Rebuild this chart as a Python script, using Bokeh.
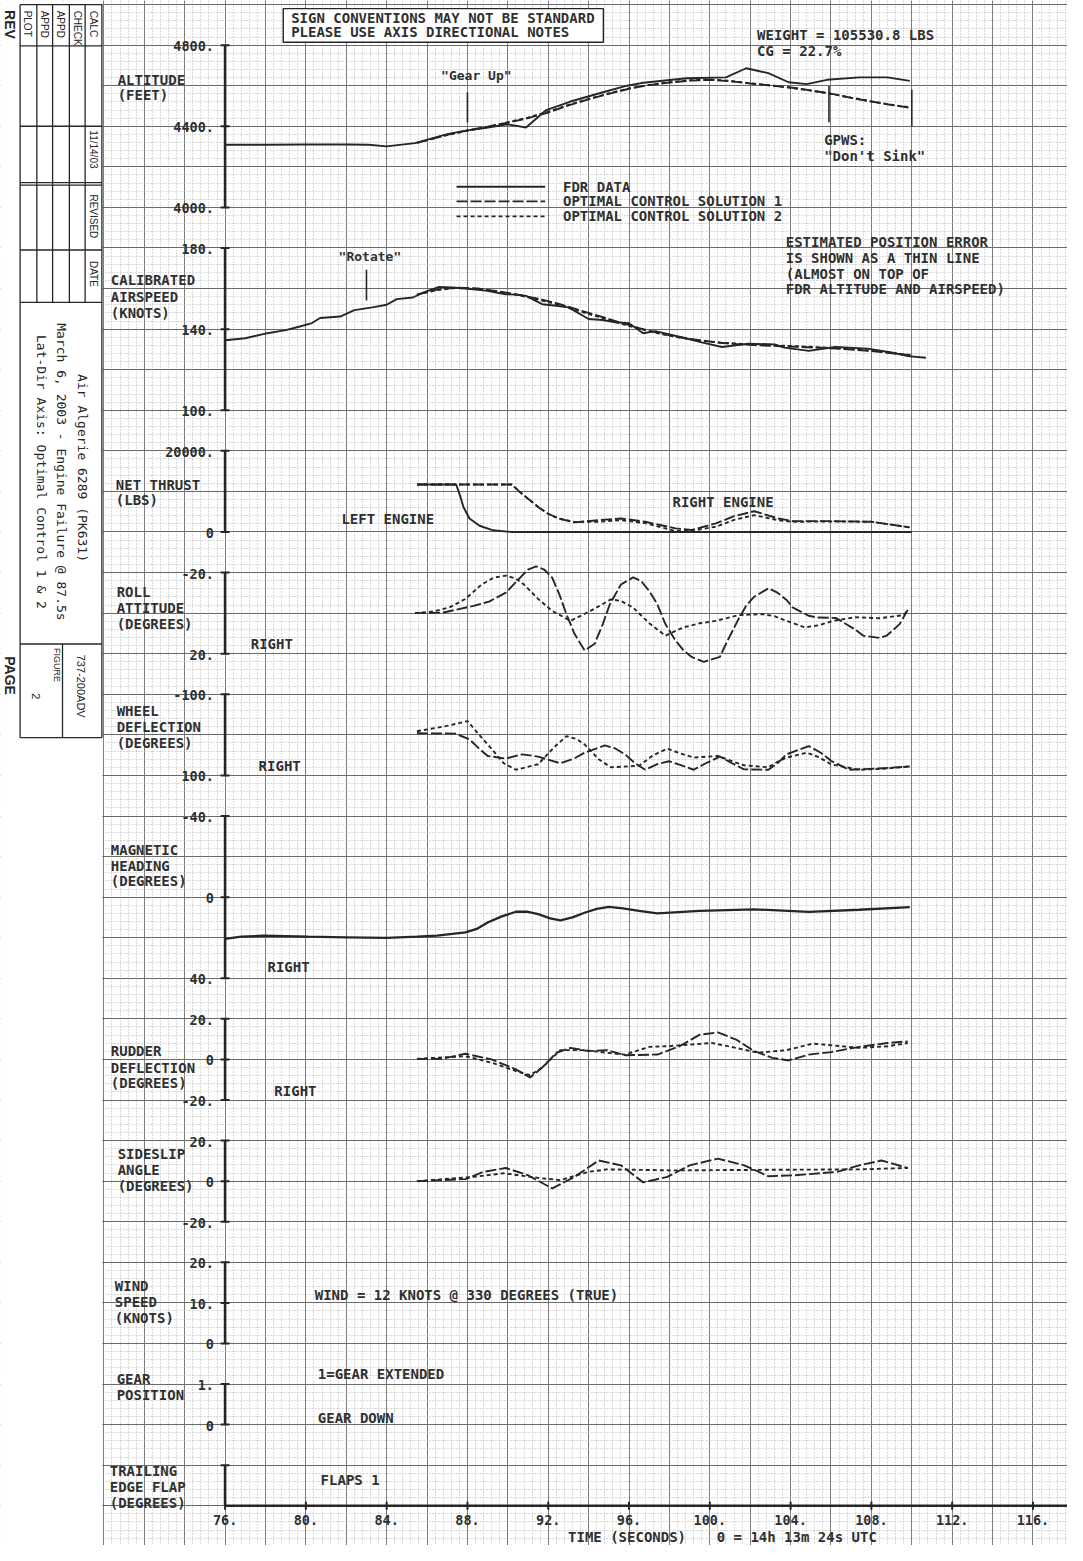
import numpy as np
from bokeh.plotting import figure
from bokeh.models import Range1d, Grid, SingleIntervalTicker
from bokeh.core.properties import value
from bokeh.embed import file_html
from bokeh.resources import INLINE

# ---------------- data (time in seconds) ----------------
# altitude (ft)
alt_fdr_t = [76, 78, 80, 82, 83.1, 84, 85.4, 87, 88, 89.1, 89.97, 90.9, 91.9, 93.1, 94.8,
             95.9, 96.6, 98.85, 100.8, 101.8, 102.9, 103.9, 104.8, 105.8, 107.4, 108.8, 109.9]
alt_fdr = [4309, 4309, 4310, 4310, 4309, 4301, 4317, 4361, 4380, 4395, 4410, 4394, 4480, 4522, 4570,
           4600, 4613, 4637, 4641, 4686, 4662, 4617, 4608, 4629, 4641, 4641, 4624]
alt_sol_t = [85.5, 87, 88, 89, 90, 91, 92, 93, 94, 95, 96, 97, 98, 99, 100, 101, 102, 103,
             104, 105, 106, 107, 108, 109, 110]
alt_sol1 = [4318, 4358, 4380, 4398, 4418, 4440, 4468, 4503, 4533, 4560, 4585, 4603, 4615, 4625,
            4629, 4622, 4611, 4601, 4591, 4577, 4561, 4540, 4522, 4505, 4490]
alt_sol2 = [4318, 4357, 4378, 4396, 4420, 4443, 4472, 4505, 4535, 4562, 4587, 4604, 4617, 4627,
            4630, 4624, 4612, 4602, 4590, 4576, 4560, 4541, 4523, 4506, 4492]

# calibrated airspeed (knots)
spd_fdr_t = [76, 77, 78.1, 79, 79.7, 80.3, 80.7, 81.7, 82.4, 83.3, 84, 84.5, 85.3, 85.8, 86.6,
             87.2, 87.9, 88.9, 89.9, 90.4, 90.9, 91.7, 92.4, 93, 94, 94.7, 95.3, 96, 96.7, 97.3,
             98.6, 99.6, 100.6, 101.9, 103.2, 103.7, 104.9, 106.2, 107.8, 109, 109.8, 110.7]
spd_fdr = [134.5, 135.5, 138, 139.5, 141.3, 143, 145.5, 146.2, 149.4, 150.7, 152, 154.8, 155.6,
           158, 160.8, 160.5, 160, 159, 157.2, 157, 156.4, 152.3, 151.5, 150.7, 145, 144.5, 143.4,
           142.9, 138, 139, 136, 133.5, 131.2, 132.8, 132.5, 130.9, 129.3, 131.2, 130.4, 128.5,
           126.7, 125.9]
spd_sol_t = [85.5, 86.5, 87.5, 88.5, 89.5, 90.5, 91.5, 92.5, 93.5, 94.5, 95.5, 96.5, 97.5, 98.5,
             99.5, 100.5, 101.5, 102.5, 103.5, 104.5, 105.5, 106.5, 107.5, 108.5, 109.5, 110]
spd_sol1 = [157, 159.5, 160.5, 160, 158.7, 157, 155, 152.5, 149.5, 146.5, 143.5, 140.5, 138,
            136, 134.5, 133.3, 132.5, 132, 131.6, 131.2, 130.8, 130.3, 129.6, 128.7, 127.6, 127]
spd_sol2 = [157, 159.3, 160.3, 159.8, 158.5, 156.8, 154.6, 152, 149, 146, 143, 140.2, 137.8,
            135.8, 134.4, 133.4, 132.8, 132.3, 131.9, 131.5, 131, 130.5, 129.8, 128.9, 127.8, 127.2]

# net thrust (lbs)
thr_left_t = [85.5, 87.44, 87.63, 87.8, 88.1, 88.6, 89.27, 90.2, 110.0]
thr_left = [11700, 11700, 9024, 6170, 3340, 1540, 415, 0, 0]
thr_right_t = [85.5, 90.2, 90.6, 91.0, 91.5, 91.97, 92.5, 93.3, 94.5, 95.6, 96.8, 98.3, 99.1,
               100.3, 101.2, 102.2, 103.4, 104.1, 106.0, 108.0, 109.9]
thr_right1 = [11700, 11700, 9840, 8220, 6170, 4560, 3340, 2370, 2930, 3330, 2520, 900, 490,
              2120, 3900, 5120, 3330, 2680, 2680, 2520, 1150]
thr_right2 = [11700, 11700, 9840, 8220, 6170, 4560, 3340, 2500, 2520, 2930, 2200, 240, 300,
              1300, 3000, 4150, 2900, 2520, 2600, 2520, 1150]

# roll attitude (deg)
roll1_t = [85.4, 86.8, 88.3, 89.07, 89.9, 90.6, 91.0, 91.4, 91.8, 92.2, 92.55, 92.9, 93.3, 93.8,
           94.3, 94.7, 95.05, 95.6, 96.2, 96.6, 97.0, 97.4, 97.8, 98.3, 98.7, 99.1, 99.7, 100.5,
           100.8, 101.4, 101.8, 102.2, 102.9, 103.35, 103.8, 104.1, 104.9, 105.3, 106.25, 107.2,
           107.6, 108.4, 108.75, 109.1, 109.4, 109.8]
roll1 = [0, -0.3, -3.6, -5.7, -10.1, -17.4, -21.5, -23.1, -21.5, -17.4, -9.3, 0.5, 10.2, 18.4,
         15.1, 5.4, -4.4, -14.1, -17.6, -15.8, -10.9, -4.4, 5.4, 13.5, 18.4, 21.6, 24.0, 21.6,
         15.1, 3.3, -3.6, -8.1, -12.2, -10.1, -6.5, -2.8, 1.3, 2.1, 2.4, 8.1, 11.1, 12.2, 11.1,
         8.1, 5.4, -1.6]
roll2_t = [85.4, 86.3, 87.1, 87.9, 88.7, 89.3, 89.9, 90.4, 90.8, 91.5, 92.2, 93.1, 94.1, 95.1,
           95.6, 96.2, 97.0, 97.8, 98.7, 99.5, 100.3, 101.4, 102.6, 103.2, 103.8, 104.7, 105.4,
           106.1, 107.2, 108.4, 109.6, 109.8]
roll2 = [0, -0.8, -2.8, -7, -14.1, -17.5, -18.5, -17, -14.1, -7, -1.1, 3.8, -1.1, -6.8, -6,
         -2.8, 5, 11.1, 7, 5, 3.8, 1, 0.5, 1.5, 3.8, 7, 6, 3.8, 2, 2.5, 1, -1.6]

# wheel deflection (deg)
wheel1_t = [85.5, 87.4, 88.1, 88.6, 89.0, 89.9, 90.7, 91.5, 92.6, 93.3, 93.8, 94.8, 95.3, 95.8,
            96.3, 96.8, 97.4, 97.98, 98.6, 99.2, 99.8, 100.5, 101.1, 101.7, 102.9, 103.4, 103.8,
            104.9, 105.5, 106.0, 106.9, 108.3, 109.9]
wheel1 = [-4, -3, 11, 35, 52, 58.5, 48, 53.6, 70, 58, 44, 26, 33, 48, 70, 86, 72, 65, 75, 86,
          70, 53.6, 70, 85, 86, 68, 48, 27.6, 44, 64, 86, 83, 78]
wheel2_t = [85.5, 87.0, 88.0, 88.5, 89.2, 89.8, 90.4, 91.5, 92.3, 92.9, 93.4, 93.8, 94.5, 95.1,
            96.5, 97.2, 97.9, 98.5, 99.2, 100.4, 101.1, 101.7, 102.9, 103.4, 103.8, 104.8, 105.4,
            106.0, 107.4, 108.5, 109.9]
wheel2 = [-9, -22, -34, -5, 35, 70, 86, 72.5, 30, 3.3, 10, 23.6, 60, 80, 76, 50, 34, 45, 56, 52,
          65, 75, 80, 65, 56, 44, 55, 72.5, 86, 84, 78]

# magnetic heading (deg)
hdg_t = [76, 76.8, 77.9, 80.1, 82, 84, 85.5, 86.5, 87.9, 88.5, 89, 89.7, 90.4, 91, 91.5, 92.1,
         92.6, 93.2, 93.8, 94.4, 95, 95.7, 96.5, 97.4, 99.5, 102.2, 104.9, 107.4, 109.9]
hdg = [20.6, 19.5, 19, 19.5, 19.8, 20.1, 19.5, 19, 17.4, 15.5, 12.5, 9.5, 7.2, 7.2, 8.4, 10.5,
       11.4, 10, 7.7, 5.8, 4.8, 5.5, 6.8, 8, 6.8, 6, 7.3, 6.2, 4.9]

# rudder deflection (deg)
rud1_t = [85.5, 86.7, 87.9, 89.2, 90.4, 91.1, 91.7, 92.4, 93.1, 94.0, 94.9, 95.8, 97.4, 98.5,
          99.5, 100.4, 101.3, 102.2, 103.1, 103.9, 104.9, 106.0, 107.4, 108.8, 109.8]
rud1 = [0.3, 0.3, 2.8, 0, -4.9, -8.9, -4, 3.3, 5.7, 4.1, 4.6, 2.1, 2.4, 6.5, 12.2, 13.3, 9.8,
        4.1, 0.8, -0.5, 2.4, 3.6, 6.2, 8.1, 8.9]
rud2_t = [85.5, 87.9, 89.2, 90.4, 91.1, 91.7, 92.6, 93.8, 94.9, 95.8, 97.0, 97.9, 99.0, 100.1,
          101.3, 102.4, 103.8, 105.1, 106.2, 107.4, 108.8, 109.8]
rud2 = [0.3, 1.6, -1.6, -5.7, -7.8, -4, 4.6, 4.6, 3.3, 2.4, 6.2, 6.5, 7.3, 8.1, 5.7, 3.3, 4.6,
        7.8, 6.8, 5.7, 6.5, 8.1]

# sideslip angle (deg)
beta1_t = [85.5, 87.9, 88.8, 89.9, 91.0, 92.2, 93.3, 94.5, 95.6, 96.7, 97.9, 99.0, 100.4, 101.7,
           102.9, 104.2, 106.3, 107.4, 108.5, 109.8]
beta1 = [0, 1, 4.6, 6.5, 2.9, -3.6, 2.1, 10.2, 7.8, -0.6, 2.1, 7.8, 11.1, 7.8, 2.4, 2.9, 4.6,
         7.8, 10.2, 6.5]
beta2_t = [85.5, 88.3, 89.8, 91.5, 92.6, 94.0, 94.9, 98.3, 102.9, 107.4, 109.8]
beta2 = [0, 2.1, 3.9, 1.6, 0.5, 4.6, 5.8, 5.3, 5.6, 5.8, 6.5]

# event markers
gear_up_t = 88.0
rotate_t = 83.0
gpws_t = [105.9, 110.0]

# axis ticks
alt_ticks, alt_labels = [4800, 4400, 4000], ["4800.", "4400.", "4000."]
spd_ticks, spd_labels = [180, 140, 100], ["180.", "140.", "100."]
thr_ticks, thr_labels = [20000, 0], ["20000.", "0"]
roll_ticks, roll_labels = [-20, 20], ["-20.", "20."]
wheel_ticks, wheel_labels = [-100, 100], ["-100.", "100."]
hdg_ticks, hdg_labels = [-40, 0, 40], ["-40.", "0", "40."]
rud_ticks, rud_labels = [20, 0, -20], ["20.", "0", "-20."]
beta_ticks, beta_labels = [20, 0, -20], ["20.", "0", "-20."]
wind_ticks, wind_labels = [20, 10, 0], ["20.", "10.", "0"]
gear_ticks, gear_labels = [1, 0], ["1.", "0"]
flap_ticks, flap_labels = [1], [""]
time_ticks = [76, 80, 84, 88, 92, 96, 100, 104, 108, 112, 116]
time_labels = ["76.", "80.", "84.", "88.", "92.", "96.", "100.", "104.", "108.", "112.", "116."]

# ---------------- layout ----------------
INK = "#262626"
TXT = "#303030"
MONO = value("DejaVu Sans Mono")
T_LEFT, T_RIGHT = 64.88, 117.71      # time at the page edges
ROW_TOP, ROW_BOT = -0.1, 37.98       # grid rows (one row per strip line) at top / bottom
AXIS_T = 76.0

p = figure(width=1067, height=1545, x_range=Range1d(T_LEFT, T_RIGHT),
           y_range=Range1d(ROW_BOT, ROW_TOP), x_axis_type=None, y_axis_type=None,
           toolbar_location=None, output_backend="svg", min_border=0)
p.outline_line_color = None
p.background_fill_color = "white"
p.border_fill_color = "white"

# chart paper grid
p.add_layout(Grid(dimension=0, ticker=SingleIntervalTicker(interval=2, num_minor_ticks=5),
                  grid_line_color="#7c7c7c", minor_grid_line_color="#b4b4b4",
                  minor_grid_line_dash="1 2"))
p.add_layout(Grid(dimension=1, ticker=SingleIntervalTicker(interval=1, num_minor_ticks=5),
                  grid_line_color="#6a6a6a", minor_grid_line_color="#b4b4b4",
                  minor_grid_line_dash="1 2"))

# panels: name -> (top value, top row, bottom value, bottom row, ticks, labels)
panels = {
    "alt": (4800, 1, 4000, 5, alt_ticks, alt_labels),
    "spd": (180, 6, 100, 10, spd_ticks, spd_labels),
    "thr": (20000, 11, 0, 13, thr_ticks, thr_labels),
    "roll": (-20, 14, 20, 16, roll_ticks, roll_labels),
    "wheel": (-100, 17, 100, 19, wheel_ticks, wheel_labels),
    "hdg": (-40, 20, 40, 24, hdg_ticks, hdg_labels),
    "rud": (20, 25, -20, 27, rud_ticks, rud_labels),
    "beta": (20, 28, -20, 30, beta_ticks, beta_labels),
    "wind": (20, 31, 0, 33, wind_ticks, wind_labels),
    "gear": (1, 34, 0, 35, gear_ticks, gear_labels),
    "flap": (1, 36, 0, 37, flap_ticks, flap_labels),
}
ranges = {}
for name, (v0, r0, v1, r1, ticks, labels) in panels.items():
    k = (v1 - v0) / (r1 - r0)
    ranges[name] = Range1d(start=v0 + (ROW_BOT - r0) * k, end=v0 + (ROW_TOP - r0) * k)
p.extra_y_ranges = ranges

for name, (v0, r0, v1, r1, ticks, labels) in panels.items():
    p.segment(x0=AXIS_T, x1=AXIS_T, y0=v0, y1=v1, y_range_name=name,
              line_color=INK, line_width=2.6)
    p.segment(x0=AXIS_T - 0.22, x1=AXIS_T + 0.22, y0=ticks, y1=ticks, y_range_name=name,
              line_color=INK, line_width=2)
    p.text(x=AXIS_T - 0.55, y=ticks, text=labels, y_range_name=name, text_align="right",
           text_baseline="alphabetic", text_font=MONO, text_font_size=value("13.5px"),
           text_font_style="bold", text_color=TXT, y_offset=1)

# time axis
p.segment(x0=AXIS_T, x1=T_RIGHT, y0=37, y1=37, line_color=INK, line_width=2.6)
p.segment(x0=time_ticks, x1=time_ticks, y0=36.9, y1=37.1, line_color=INK, line_width=2)
p.text(x=time_ticks, y=37.36, text=time_labels, text_align="center", text_baseline="middle",
       text_font=MONO, text_font_size=value("13.5px"), text_font_style="bold", text_color=TXT)

# curves
SOL1 = "11 3"
SOL2 = "4 3"
def curve(t, v, rng, dash="solid", w=1.9):
    p.line(t, v, y_range_name=rng, line_color=INK, line_width=w, line_dash=dash)

curve(alt_fdr_t, alt_fdr, "alt")
curve(alt_sol_t, alt_sol1, "alt", SOL1)
curve(alt_sol_t, alt_sol2, "alt", SOL2)
curve(spd_fdr_t, spd_fdr, "spd")
curve(spd_sol_t, spd_sol1, "spd", SOL1)
curve(spd_sol_t, spd_sol2, "spd", SOL2)
curve(thr_left_t, thr_left, "thr")
curve(thr_right_t, thr_right1, "thr", SOL1)
curve(thr_right_t, thr_right2, "thr", SOL2)
curve(roll1_t, roll1, "roll", SOL1)
curve(roll2_t, roll2, "roll", SOL2)
curve(wheel1_t, wheel1, "wheel", SOL1)
curve(wheel2_t, wheel2, "wheel", SOL2)
curve(hdg_t, hdg, "hdg", w=2.3)
curve(rud1_t, rud1, "rud", SOL1)
curve(rud2_t, rud2, "rud", SOL2)
curve(beta1_t, beta1, "beta", SOL1)
curve(beta2_t, beta2, "beta", SOL2)

# event markers
p.segment(x0=gear_up_t, x1=gear_up_t, y0=4566, y1=4420, y_range_name="alt", line_color=INK, line_width=1.6)
p.segment(x0=gpws_t, x1=gpws_t, y0=[4600, 4580], y1=[4420, 4400], y_range_name="alt",
          line_color=INK, line_width=1.6)
p.segment(x0=rotate_t, x1=rotate_t, y0=169.3, y1=154.1, y_range_name="spd", line_color=INK, line_width=1.6)

# legend samples
p.segment(x0=87.46, x1=91.85, y0=4.49, y1=4.49, line_color=INK, line_width=1.9)
p.segment(x0=87.46, x1=91.85, y0=4.85, y1=4.85, line_color=INK, line_width=1.9, line_dash=SOL1)
p.segment(x0=87.46, x1=91.85, y0=5.22, y1=5.22, line_color=INK, line_width=1.9, line_dash=SOL2)

# note box
p.quad(left=78.88, right=94.73, top=0.1, bottom=0.93, fill_color="white", line_color=INK, line_width=1.4)

# title block on the left
p.quad(left=T_LEFT, right=69.92, top=ROW_TOP, bottom=ROW_BOT, fill_color="white", line_color=None)
cols = [65.85, 66.68, 67.46, 68.29, 69.07, 69.9]
p.segment(x0=cols, x1=cols, y0=0, y1=7.34, line_color=INK, line_width=1.3)
p.segment(x0=[65.85, 69.9], x1=[65.85, 69.9], y0=7.34, y1=18.07, line_color=INK, line_width=1.3)
p.segment(x0=65.85, x1=69.9, y0=[0, 1.02, 3.0, 4.39, 4.45, 6.05, 7.34, 15.76, 18.07],
          y1=[0, 1.02, 3.0, 4.39, 4.45, 6.05, 7.34, 15.76, 18.07], line_color=INK, line_width=1.3)
p.segment(x0=67.95, x1=67.95, y0=15.76, y1=18.07, line_color=INK, line_width=1.3)

SIDE = value("Liberation Sans")
rot = dict(angle=-np.pi / 2, text_baseline="middle", text_color=INK)
p.text(x=[66.24, 67.07, 67.85, 68.68, 69.46], y=0.15, text=["PLOT", "APPD", "APPD", "CHECK", "CALC"],
       text_align="left", text_font=SIDE, text_font_size=value("10px"), **rot)
p.text(x=[69.46, 69.46, 69.46], y=[3.1, 4.68, 6.32], text=["11/14/03", "REVISED", "DATE"],
       text_align="left", text_font=SIDE, text_font_size=value("10px"), **rot)
p.text(x=[65.37, 65.37], y=[0.49, 16.54], text=["REV", "PAGE"], text_align="center",
       text_font=SIDE, text_font_size=value("14px"), text_font_style="bold", **rot)
p.text(x=[68.93, 67.9, 66.93], y=11.52,
       text=["Air Algerie  6289 (PK631)", "March 6, 2003 - Engine Failure @ 87.5s",
             "Lat-Dir Axis: Optimal Control 1 & 2"],
       text_align="center", text_font=MONO, text_font_size=value("13px"), **rot)
p.text(x=[68.88, 66.63], y=[16.8, 17.05], text=["737-200ADV", "2"], text_align="center",
       text_font=SIDE, text_font_size=value("11px"), **rot)
p.text(x=[67.66], y=[16.28], text=["FIGURE"], text_align="center",
       text_font=SIDE, text_font_size=value("9px"), **rot)

# texts on the chart paper
labels = [
    ("ALTITUDE", 70.68, 1.85), ("(FEET)", 70.68, 2.24),
    ("CALIBRATED", 70.34, 6.80), ("AIRSPEED", 70.34, 7.20), ("(KNOTS)", 70.34, 7.59),
    ("NET THRUST", 70.59, 11.83), ("(LBS)", 70.59, 12.22),
    ("ROLL", 70.63, 14.49), ("ATTITUDE", 70.63, 14.88), ("(DEGREES)", 70.63, 15.27),
    ("WHEEL", 70.63, 17.41), ("DEFLECTION", 70.63, 17.80), ("(DEGREES)", 70.63, 18.20),
    ("MAGNETIC", 70.34, 20.83), ("HEADING", 70.34, 21.22), ("(DEGREES)", 70.34, 21.61),
    ("RUDDER", 70.34, 25.80), ("DEFLECTION", 70.34, 26.20), ("(DEGREES)", 70.34, 26.59),
    ("SIDESLIP", 70.68, 28.34), ("ANGLE", 70.68, 28.73), ("(DEGREES)", 70.68, 29.12),
    ("WIND", 70.54, 31.59), ("SPEED", 70.54, 31.98), ("(KNOTS)", 70.54, 32.37),
    ("GEAR", 70.63, 33.88), ("POSITION", 70.63, 34.27),
    ("TRAILING", 70.29, 36.15), ("EDGE FLAP", 70.29, 36.54), ("(DEGREES)", 70.29, 36.93),
    ("SIGN CONVENTIONS MAY NOT BE STANDARD", 79.27, 0.32),
    ("PLEASE USE AXIS DIRECTIONAL NOTES", 79.27, 0.68),
    ("WEIGHT = 105530.8 LBS", 102.34, 0.76), ("CG = 22.7%", 102.34, 1.15),
    ("GPWS:", 105.66, 3.34), ('"Don\'t Sink"', 105.66, 3.73),
    ("FDR DATA", 92.73, 4.49), ("OPTIMAL CONTROL SOLUTION 1", 92.73, 4.85),
    ("OPTIMAL CONTROL SOLUTION 2", 92.73, 5.22),
    ("ESTIMATED POSITION ERROR", 103.76, 5.85), ("IS SHOWN AS A THIN LINE", 103.76, 6.24),
    ("(ALMOST ON TOP OF", 103.76, 6.63), ("FDR ALTITUDE AND AIRSPEED)", 103.76, 7.02),
    ("LEFT ENGINE", 81.76, 12.68), ("RIGHT ENGINE", 98.15, 12.27),
    ("RIGHT", 77.27, 15.76), ("RIGHT", 77.66, 18.76), ("RIGHT", 78.1, 23.73), ("RIGHT", 78.44, 26.78),
    ("WIND = 12 KNOTS @ 330 DEGREES (TRUE)", 80.44, 31.8),
    ("1=GEAR EXTENDED", 80.59, 33.76), ("GEAR DOWN", 80.59, 34.83), ("FLAPS 1", 80.73, 36.37),
    ("TIME (SECONDS)", 92.98, 37.76), ("0 = 14h 13m 24s UTC", 100.34, 37.76),
]
p.text(x=[l[1] for l in labels], y=[l[2] for l in labels], text=[l[0] for l in labels],
       text_align="left", text_baseline="middle", text_font=MONO,
       text_font_size=value("14px"), text_font_style="bold", text_color=TXT)
p.text(x=[gear_up_t + 0.44, rotate_t + 0.17], y=[1.76, 6.22], text=['"Gear Up"', '"Rotate"'],
       text_align="center", text_baseline="middle", text_font=MONO,
       text_font_size=value("13px"), text_font_style="bold", text_color=TXT)

open("out.html", "w").write(file_html(p, INLINE))
